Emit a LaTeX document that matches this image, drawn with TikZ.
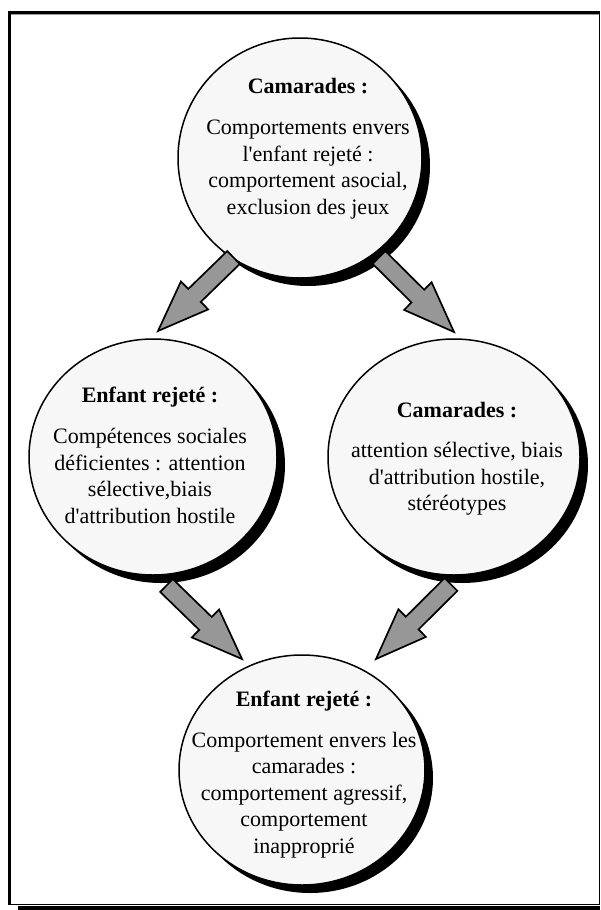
\documentclass[tikz,border=0pt]{standalone}
\usepackage{fontspec}
\setmainfont{Liberation Serif}[Ligatures=TeXOff]
\usetikzlibrary{shapes.geometric,calc,shadows}

\definecolor{bubblefill}{HTML}{F7F7F7}
\definecolor{arrowfill}{HTML}{979797}

\tikzset{
  bubble/.style={ellipse, draw=black, line width=1.5pt, fill=bubblefill,
    inner sep=0pt,
    drop shadow={shadow xshift=8pt, shadow yshift=-8pt, fill=black, opacity=1}},
  bubbletext/.style={anchor=north, inner sep=0pt, align=center,
    font=\fontsize{22}{26.5}\selectfont},
  arrowbody/.style={fill=arrowfill, draw=black, line width=1.7pt, line join=miter},
}

% block arrow: #1 name prefix, #2 tail coordinate, #3 tip coordinate
\newcommand\blockarrow[3]{%
  \coordinate (#1b) at ($(#3)!51pt!(#2)$);
  \filldraw[arrowbody]
    ($(#2)!9pt!90:(#3)$) -- ($(#1b)!9pt!90:(#3)$) -- ($(#1b)!19.5pt!90:(#3)$)
    -- (#3) --
    ($(#1b)!19.5pt!-90:(#3)$) -- ($(#1b)!9pt!-90:(#3)$) -- ($(#2)!9pt!-90:(#3)$)
    -- cycle;
}

\begin{document}
\begin{tikzpicture}[x=1pt, y=-1pt]
  \useasboundingbox (0,0) rectangle (600,910);

  % outer frame with its shadow
  \fill[black] (18,906) rectangle (600,910);
  \draw[line width=1.2pt] (9.5,904.3) -- (599.2,904.3) -- (599.2,12.5);
  \draw[line width=3pt] (9.5,905) -- (9.5,12.5) -- (600,12.5);
  \draw[black!40, line width=0.8pt] (11,14.6) -- (598.5,14.6);

  % bubbles
  \node[bubble, minimum width=244pt, minimum height=240pt] (peers1) at (300,158) {};
  \node[bubble, minimum width=248pt, minimum height=236pt] (child1) at (153,457) {};
  \node[bubble, minimum width=252pt, minimum height=236pt] (peers2) at (454,457) {};
  \node[bubble, minimum width=246pt, minimum height=230pt] (child2) at (302,770) {};

  % bubble texts
  \node[bubbletext] (peers1t) at (308,75) {\rule{0pt}{18pt}\textbf{Camarades :}\\[15pt]
    Comportements envers\\ l'enfant rejeté :\\ comportement asocial,\\ exclusion des jeux};
  \node[bubbletext] (child1t) at (150,384) {\rule{0pt}{18pt}\textbf{Enfant rejeté :}\\[15pt]
    Compétences sociales\\ déficientes : attention\\ sélective,biais\\ d'attribution hostile};
  \node[bubbletext] (peers2t) at (457,399) {\rule{0pt}{18pt}\textbf{Camarades :}\\[14pt]
    attention sélective, biais\\ d'attribution hostile,\\ stéréotypes};
  \node[bubbletext] (child2t) at (304,688) {\rule{0pt}{18pt}\textbf{Enfant rejeté :}\\[14.5pt]
    Comportement envers les\\ camarades :\\ comportement agressif,\\ comportement\\ inapproprié};

  % arrow ends
  \coordinate (a1t) at (233.5,257.5);
  \coordinate (a1h) at (158,331);
  \coordinate (a2t) at (379,257.5);
  \coordinate (a2h) at (454,332);
  \coordinate (a3t) at (166.5,585.5);
  \coordinate (a3h) at (242,659);
  \coordinate (a4t) at (451,584.5);
  \coordinate (a4h) at (376,659);

  \blockarrow{a1}{a1t}{a1h}
  \blockarrow{a2}{a2t}{a2h}
  \blockarrow{a3}{a3t}{a3h}
  \blockarrow{a4}{a4t}{a4h}
\end{tikzpicture}
\end{document}
